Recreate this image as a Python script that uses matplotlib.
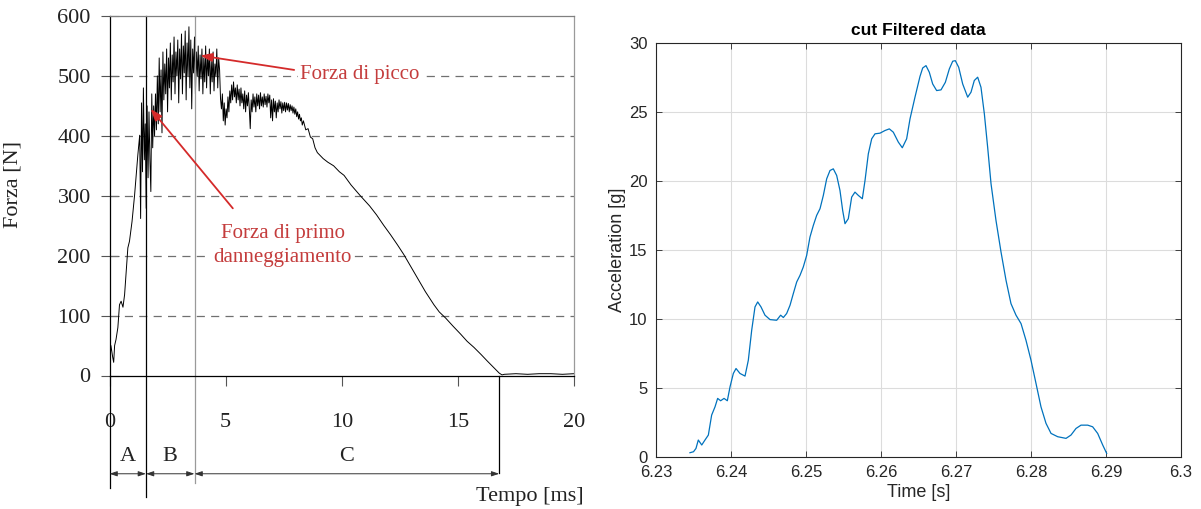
import matplotlib
matplotlib.use("Agg")
import matplotlib.pyplot as plt

force_t = [0.00, 0.02, 0.06, 0.10, 0.14, 0.18, 0.22, 0.28, 0.36, 0.43, 0.50, 0.55, 0.58,
           0.65, 0.72, 0.79, 0.86, 0.97, 1.08, 1.15, 1.22, 1.26,
           1.30, 1.34, 1.38, 1.42, 1.46, 1.50, 1.54, 1.58, 1.62, 1.66, 1.70, 1.74, 1.78,
           1.82, 1.86, 1.90, 1.94, 1.98, 2.02, 2.06, 2.10, 2.14, 2.18, 2.22, 2.26, 2.30,
           2.34, 2.38, 2.42, 2.46, 2.50, 2.54, 2.58, 2.62, 2.66, 2.70, 2.74, 2.78, 2.82,
           2.86, 2.90, 2.94, 2.98, 3.02, 3.06, 3.10, 3.14, 3.18, 3.22, 3.26, 3.30, 3.34,
           3.38, 3.42, 3.46, 3.50, 3.54, 3.58, 3.62, 3.66, 3.70, 3.74, 3.78, 3.82, 3.86,
           3.90, 3.94, 3.98, 4.02, 4.06, 4.10, 4.14, 4.18, 4.22, 4.26, 4.30, 4.34, 4.38,
           4.42, 4.46, 4.50, 4.54, 4.58, 4.62, 4.66, 4.70, 4.74, 4.78, 4.82, 4.86, 4.90,
           4.94, 4.98, 5.02, 5.06, 5.10, 5.14, 5.18, 5.22, 5.26, 5.30, 5.34, 5.38, 5.42,
           5.46, 5.50, 5.54, 5.58, 5.62, 5.66, 5.70, 5.74, 5.78, 5.82, 5.86, 5.90, 5.94,
           5.98, 6.02, 6.06, 6.10, 6.14, 6.18, 6.22, 6.26, 6.30, 6.34, 6.38, 6.42, 6.46,
           6.50, 6.54, 6.58, 6.62, 6.66, 6.70, 6.74, 6.78, 6.82, 6.86, 6.90, 6.94, 6.98,
           7.02, 7.06, 7.10, 7.14, 7.18, 7.22, 7.26, 7.30, 7.34, 7.38, 7.42, 7.46, 7.50,
           7.54, 7.58, 7.62, 7.66, 7.70, 7.74, 7.78, 7.82, 7.86, 7.90, 7.94, 7.98, 8.02,
           8.06, 8.10, 8.14, 8.18, 8.22, 8.26, 8.30,
           8.35, 8.45, 8.55, 8.65, 8.75, 8.85, 8.95, 9.05, 9.20, 9.40, 9.65, 9.90, 10.1,
           10.4, 10.8, 11.2, 11.5, 11.8, 12.1, 12.4, 12.67, 13.0, 13.25, 13.6, 13.97, 14.2,
           14.47, 14.8, 15.12, 15.4, 15.69, 16.0, 16.27, 16.55, 16.78, 16.9, 17.0, 17.5,
           18.0, 18.5, 19.0, 19.5, 20.0]
force_n = [0, 25, 50, 40, 30, 22, 50, 60, 80, 118, 124, 118, 114,
           135, 174, 213, 224, 257, 301, 335, 368, 385,
           401, 262, 455, 340, 480, 360, 420, 279, 450, 330, 440, 360, 307,
           470, 380, 450, 400, 470, 410, 500, 420, 530, 440, 510, 405, 540,
           460, 520, 470, 545, 440, 530, 480, 555, 460, 535, 490, 565, 470,
           540, 500, 560, 455, 545, 495, 570, 470, 550, 505, 575, 460, 555,
           500, 582, 480, 560, 445, 545, 505, 565, 470, 540, 500, 550, 475,
           535, 495, 545, 470, 530, 490, 550, 480, 535, 500, 545, 470, 525,
           490, 540, 475, 520, 500, 545, 480, 530, 510, 462, 445, 470, 425,
           455, 418, 445, 430, 465, 440, 475, 455, 485, 460, 490, 465, 480,
           455, 485, 460, 478, 450, 480, 455, 470, 445, 475, 440, 468, 450,
           472, 445, 412, 460, 440, 470, 448, 465, 440, 470, 450, 468, 445,
           472, 450, 465, 448, 470, 452, 466, 448, 470, 455, 468, 430, 460,
           425, 462, 440, 458, 430, 455, 440, 460, 445, 457, 438, 455, 442,
           456, 440, 455, 443, 454, 440, 452, 442, 450, 438, 448, 436, 445,
           432, 440, 428, 436, 425, 430, 418,
           425, 410, 412, 398, 395, 380, 372, 368, 362, 356, 350, 340, 334,
           318, 300, 283, 268, 251, 235, 218, 202, 180, 163, 140, 118, 106,
           96, 82, 69, 57, 47, 35, 24, 13, 4, 1, 2, 3,
           2, 3, 3, 2, 3]
force_ticks = [0, 100, 200, 300, 400, 500, 600]
time_ticks = [0, 5, 10, 15, 20]
phase_bounds = [0, 1.57, 3.66, 16.78]
phase_names = ["A", "B", "C"]

# ---- right panel: filtered acceleration ----
acc_t = [6.23453, 6.2350, 6.23533, 6.23564, 6.2361, 6.23653, 6.23698, 6.23742, 6.23787,
         6.23822, 6.23862, 6.23907, 6.23951, 6.23987, 6.24031, 6.24067, 6.2412, 6.24187,
         6.24231, 6.24276, 6.2432, 6.24356, 6.244, 6.24453, 6.2452, 6.24609, 6.24662,
         6.24698, 6.24742, 6.24787, 6.24831, 6.24876, 6.2492, 6.24964, 6.25009, 6.25053,
         6.25098, 6.25142, 6.25187, 6.25231, 6.25276, 6.2532, 6.25364, 6.25409, 6.25453,
         6.25489, 6.2552, 6.25564, 6.25609, 6.25653, 6.25698, 6.25751, 6.25787, 6.25831,
         6.25876, 6.2592, 6.25987, 6.26053, 6.26111, 6.26164, 6.26231, 6.26284, 6.26342,
         6.26387, 6.26453, 6.2652, 6.26556, 6.266, 6.26644, 6.26689, 6.26742, 6.268,
         6.26858, 6.26911, 6.26956, 6.26991, 6.27036, 6.27089, 6.27156, 6.272, 6.27244,
         6.27289, 6.27333, 6.27378, 6.27422, 6.27467, 6.27533, 6.276, 6.27667, 6.27733,
         6.278, 6.27867, 6.27933, 6.28, 6.28067, 6.28133, 6.282, 6.28267, 6.28356,
         6.28467, 6.28533, 6.286, 6.28667, 6.28756, 6.28822, 6.28889, 6.28956, 6.29009]
acc_g = [0.29, 0.36, 0.6, 1.21, 0.85, 1.21, 1.57, 3.02, 3.62,
         4.23, 4.06, 4.23, 4.06, 5.07, 6.04, 6.40, 6.04, 5.85,
         7.0, 9.18, 10.87, 11.23, 10.87, 10.27, 9.95, 9.9, 10.27,
         10.1, 10.39, 10.99, 11.84, 12.68, 13.16, 13.77, 14.61, 15.94,
         16.79, 17.51, 18.0, 18.96, 20.17, 20.77, 20.89, 20.41, 19.32,
         17.87, 16.91, 17.27, 18.84, 19.2, 18.96, 18.72, 20.05, 21.98,
         23.07, 23.43, 23.48, 23.67, 23.79, 23.55, 22.83, 22.42, 23.07,
         24.52, 26.09, 27.6, 28.21, 28.38, 27.9, 27.05, 26.57, 26.62,
         27.17, 28.14, 28.7, 28.74, 28.26, 27.05, 26.09, 26.45, 27.3,
         27.54, 26.81, 24.88, 22.46, 19.81, 17.15, 14.86, 12.8, 11.11,
         10.27, 9.66, 8.45, 7.0, 5.31, 3.62, 2.42, 1.69, 1.45,
         1.33, 1.57, 2.05, 2.29, 2.29, 2.17, 1.69, 0.85, 0.24]
acc_xticks = [6.23, 6.24, 6.25, 6.26, 6.27, 6.28, 6.29, 6.30]
acc_xlabels = ["6.23", "6.24", "6.25", "6.26", "6.27", "6.28", "6.29", "6.3"]
acc_yticks = [0, 5, 10, 15, 20, 25, 30]

fig = plt.figure(figsize=(12.01, 5.09), dpi=100)

# ================= left =================
serif = "Liberation Serif"
ax1 = fig.add_axes([109.5 / 1201, 1 - 375.5 / 509, 464.5 / 1201, 359.5 / 509])
ax1.set_xlim(0, 20)
ax1.set_ylim(0, 600)
for y in force_ticks[1:-1]:
    ax1.axhline(y, color="#707070", lw=0.9, dashes=(6.5, 5))
ax1.plot(force_t, force_n, color="black", lw=0.7)

ax1.spines["left"].set_color("black")
ax1.spines["bottom"].set_color("black")
ax1.spines["top"].set_color("#808080")
ax1.spines["right"].set_color("#9a9a9a")
for s in ax1.spines.values():
    s.set_linewidth(0.9)

ax1.set_xticks(time_ticks)
ax1.set_yticks(force_ticks)
ax1.tick_params(axis="x", direction="out", length=7, width=0.8, pad=20, color="#555555")
ax1.tick_params(axis="y", direction="inout", length=13, width=0.8, pad=7, color="#555555")
for lab in ax1.get_xticklabels() + ax1.get_yticklabels():
    lab.set_fontfamily(serif)
    lab.set_fontsize(16)
    lab.set_color("#222222")
ax1.set_ylabel("Forza [N]", fontfamily=serif, fontsize=16, color="#222222")
ax1.yaxis.set_label_coords(-0.188, 0.53)

# phase boundaries extending below the axis
ax1.plot([phase_bounds[0]] * 2, [0, -188], color="black", lw=0.9, clip_on=False)
ax1.plot([phase_bounds[1]] * 2, [600, -202], color="black", lw=0.9, clip_on=False)
ax1.plot([phase_bounds[2]] * 2, [600, -180], color="#9a9a9a", lw=0.9, clip_on=False)
ax1.plot([phase_bounds[3]] * 2, [0, -163], color="black", lw=0.9, clip_on=False)
for i, name in enumerate(phase_names):
    a, b = phase_bounds[i], phase_bounds[i + 1]
    ax1.annotate("", xy=(a, -164), xytext=(b, -164), annotation_clip=False,
                 arrowprops=dict(arrowstyle="<|-|>,head_length=0.45,head_width=0.15",
                                 color="#333333", lw=0.7, shrinkA=0, shrinkB=0))
    ax1.text((a + b) / 2, -136, name, fontfamily=serif, fontsize=16,
             ha="center", va="center", color="#222222", clip_on=False)
ax1.text(20.4, -202, "Tempo [ms]", fontfamily=serif, fontsize=16,
         ha="right", va="center", color="#222222", clip_on=False)

red_txt = "#c43c3c"
red_arw = "#d42a2a"
white_box = dict(facecolor="white", edgecolor="none", pad=1.5)
ax1.text(10.76, 503, "Forza di picco", fontfamily=serif, fontsize=15,
         ha="center", va="center", color=red_txt, bbox=white_box, zorder=5)
ax1.annotate("", xy=(3.91, 534), xytext=(7.95, 510),
             arrowprops=dict(arrowstyle="-|>,head_length=0.7,head_width=0.25",
                             color=red_arw, lw=1.3, shrinkA=0, shrinkB=0), zorder=6)
ax1.text(7.46, 217, "Forza di primo\ndanneggiamento", fontfamily=serif, fontsize=15,
         ha="center", va="center", color=red_txt, linespacing=1.3,
         bbox=white_box, zorder=5)
ax1.annotate("", xy=(1.77, 445), xytext=(5.31, 279),
             arrowprops=dict(arrowstyle="-|>,head_length=0.7,head_width=0.25",
                             color=red_arw, lw=1.3, shrinkA=0, shrinkB=0), zorder=6)

# ================= right =================
sans = "Liberation Sans"
ax2 = fig.add_axes([656 / 1201, 1 - 456.7 / 509, 525 / 1201, 413.4 / 509])
ax2.plot(acc_t, acc_g, color="#0072BD", lw=0.9)
ax2.set_xlim(6.23, 6.30)
ax2.set_ylim(0, 30)
ax2.set_xticks(acc_xticks)
ax2.set_xticklabels(acc_xlabels)
ax2.set_yticks(acc_yticks)
ax2.grid(True, color="#dcdcdc", lw=0.8)
ax2.set_axisbelow(True)
ax2.tick_params(direction="in", length=4, width=0.6, top=True, right=True,
                labelsize=12, colors="#262626")
ax2.tick_params(axis="x", pad=6)
ax2.tick_params(axis="y", pad=6)
for lab in ax2.get_xticklabels() + ax2.get_yticklabels():
    lab.set_fontfamily(sans)
for s in ax2.spines.values():
    s.set_color("#262626")
    s.set_linewidth(0.8)
ax2.set_xlabel("Time [s]", fontfamily=sans, fontsize=13, color="#262626", labelpad=3)
ax2.set_ylabel("Acceleration [g]", fontfamily=sans, fontsize=13, color="#262626", labelpad=2)
ax2.set_title("cut Filtered data", fontfamily=sans, fontsize=12.5, fontweight="bold",
              color="black", pad=6)

fig.savefig("out.png", dpi=100)
